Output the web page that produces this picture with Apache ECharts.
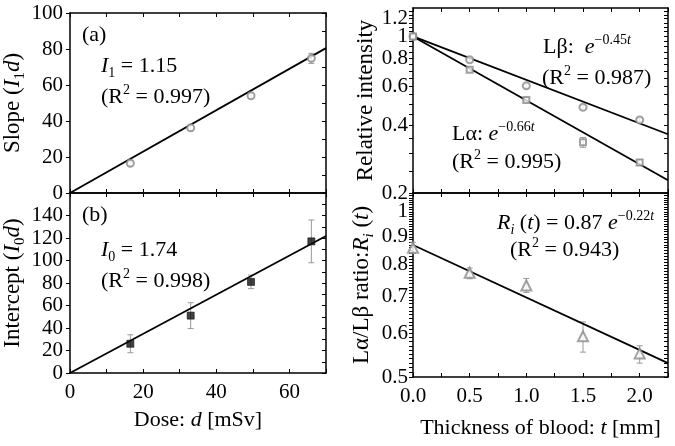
<!DOCTYPE html>
<html>
<head>
<meta charset="utf-8">
<script src="https://cdn.jsdelivr.net/npm/echarts@6/dist/echarts.min.js"></script>
<style>
  html, body { margin: 0; padding: 0; background: #fff; }
  #chart { width: 675px; height: 446px; }
</style>
</head>
<body>
<div id="chart"></div>
<script>
// (a) slope vs dose
var doses = [16.5, 33, 49.5, 66];
var slopeVals = [16.5, 36.2, 54, 74.8];
var slopeErr = [1.2, 1.5, 1.5, 2.8];
var slopeFit = [[0, 0], [70, 80.5]];
// (b) intercept vs dose
var interceptVals = [26, 51, 81, 117];
var interceptErr = [8, 11.5, 6, 19];
var interceptFit = [[0, 0], [70, 121.8]];
// relative intensity vs thickness of blood
var thick = [0, 0.5, 1.0, 1.5, 2.0];
var lbVals = [1.0, 0.787, 0.602, 0.483, 0.424];
var lbErr = [0.01, 0.012, 0.012, 0.008, 0.008];
var laVals = [1.0, 0.71, 0.521, 0.337, 0.274];
var laErr = [0.01, 0.01, 0.008, 0.017, 0.008];
var lbFit = [[0, 1.0], [2.25, 0.366]];
var laFit = [[0, 1.0], [2.25, 0.228]];
// La/Lb ratio
var ratioVals = [0.86, 0.774, 0.734, 0.593, 0.552];
var ratioLo = [0.84, 0.755, 0.713, 0.555, 0.530];
var ratioHi = [0.88, 0.79, 0.756, 0.630, 0.570];
var ratioFit = [[0, 0.87], [2.25, 0.53]];

// tick labels
var doseTicks = [0, 20, 40, 60];
var slopeTicks = [0, 20, 40, 60, 80, 100];
var interceptTicks = [0, 20, 40, 60, 80, 100, 120, 140];
var thickTicks = [0, 0.5, 1.0, 1.5, 2.0];
var intensityTicks = [0.2, 0.4, 0.6, 0.8, 1, 1.2];
var ratioTicks = [0.5, 0.6, 0.7, 0.8, 0.9, 1];

var FONT = 'Liberation Serif';
var L = Math.log10;

function steps(a, b, s) {
  var out = [];
  for (var v = a; v <= b + 1e-9; v += s) out.push(+v.toFixed(4));
  return out;
}
var doseMinor = steps(0, 70, 10);
var slopeMinor = steps(0, 100, 10);
var interceptMinor = steps(0, 160, 10);
var thickMinor = steps(0, 2.25, 0.25);
var intensityMinor = steps(0.2, 1.3, 0.05).map(L);
var ratioMinor = steps(0.5, 1.08, 0.01).map(L);

function richFor(size) {
  var s = Math.round(size * 0.64);
  return {
    i: { fontFamily: FONT, fontSize: size, fontStyle: 'italic', color: '#000' },
    sub: { fontFamily: FONT, fontSize: s, color: '#000', padding: [15, 0, 0, 0] },
    subi: { fontFamily: FONT, fontSize: s, fontStyle: 'italic', color: '#000', padding: [15, 0, 0, 0] },
    sup: { fontFamily: FONT, fontSize: s, color: '#000', padding: [0, 0, 13, 0] },
    supi: { fontFamily: FONT, fontSize: s, fontStyle: 'italic', color: '#000', padding: [0, 0, 13, 0] }
  };
}
var rich = richFor(22);
var xNameStyle = { fontFamily: FONT, fontSize: 22, color: '#000', rich: richFor(22) };
var yNameStyle = { fontFamily: FONT, fontSize: 23, color: '#000', rich: richFor(23) };

var LY = [0.2, 1.34].map(L);
var RY = [0.5, 1.082].map(L);

// log-axis labels; the blank label at the axis top keeps "1" and "1.2" both visible
function logFmt(top) {
  return function (v) {
    if (Math.abs(v - top) < 1e-9) return '';
    return String(+Math.pow(10, v).toFixed(2));
  };
}

function ax(grid, min, max, ticks, labels, o) {
  o = o || {};
  var a = {
    type: 'value', gridIndex: grid, min: min, max: max,
    position: o.position,
    splitLine: { show: false },
    axisLine: { show: true, onZero: false, lineStyle: { color: '#000', width: 1.5 } },
    axisTick: { show: true, inside: !o.out, length: 4, customValues: ticks,
      lineStyle: { color: '#000', width: 1 } },
    axisLabel: { show: !!labels, customValues: labels || [], margin: o.margin || 8,
      hideOverlap: false,
      fontFamily: FONT, fontSize: 21, color: '#000', formatter: o.fmt }
  };
  if (o.name) {
    a.name = o.name; a.nameLocation = 'middle'; a.nameGap = o.gap;
    a.nameTextStyle = o.rot ? yNameStyle : xNameStyle;
    if (o.rot) a.nameRotate = 90;
  }
  return a;
}

function errRender(params, api) {
  var x = api.value(0);
  var p1 = api.coord([x, api.value(1)]);
  var p2 = api.coord([x, api.value(2)]);
  var w = 3;
  var st = { stroke: '#999', lineWidth: 1 };
  return { type: 'group', children: [
    { type: 'line', shape: { x1: p1[0], y1: p1[1], x2: p2[0], y2: p2[1] }, style: st },
    { type: 'line', shape: { x1: p1[0] - w, y1: p1[1], x2: p1[0] + w, y2: p1[1] }, style: st },
    { type: 'line', shape: { x1: p2[0] - w, y1: p2[1], x2: p2[0] + w, y2: p2[1] }, style: st }
  ] };
}
function errSeries(g, data) {
  return { type: 'custom', xAxisIndex: 2 * g, yAxisIndex: 2 * g, data: data, z: 3,
    silent: true, encode: { x: 0, y: [1, 2] }, renderItem: errRender };
}
function fitSeries(g, data) {
  return { type: 'line', xAxisIndex: 2 * g, yAxisIndex: 2 * g, data: data, symbol: 'none',
    z: 4, silent: true, lineStyle: { color: '#000', width: 1.8 } };
}
function dotSeries(g, data, symbol, size, color) {
  return { type: 'scatter', xAxisIndex: 2 * g, yAxisIndex: 2 * g, data: data, symbol: symbol,
    symbolSize: size, z: 5, silent: true,
    itemStyle: { color: color, borderColor: color, borderWidth: 0.8 } };
}

function txt(x, y, text) {
  return { type: 'text', x: x, y: y, silent: true,
    style: { text: text, fontFamily: FONT, fontSize: 22, fill: '#000',
      verticalAlign: 'middle', align: 'left', rich: rich } };
}

var option = {
  animation: false,
  backgroundColor: '#fff',
  grid: [
    { left: 70, top: 13, width: 256, height: 180, outerBoundsMode: 'none' },
    { left: 70, top: 193, width: 256, height: 180, outerBoundsMode: 'none' },
    { left: 413, top: 8, width: 255, height: 185, outerBoundsMode: 'none' },
    { left: 413, top: 193, width: 255, height: 184, outerBoundsMode: 'none' }
  ],
  xAxis: [
    ax(0, 0, 70, doseMinor, null, { position: 'bottom' }),
    ax(0, 0, 70, doseMinor, null, { position: 'top' }),
    ax(1, 0, 70, doseMinor, doseTicks, { position: 'bottom', margin: 9,
      name: 'Dose: {i|d} [mSv]', gap: 36 }),
    ax(1, 0, 70, doseMinor, null, { position: 'top' }),
    ax(2, 0, 2.25, thickMinor, null, { position: 'bottom' }),
    ax(2, 0, 2.25, thickMinor, null, { position: 'top' }),
    ax(3, 0, 2.25, thickMinor, thickTicks, { position: 'bottom', margin: 9,
      fmt: function (v) { return v.toFixed(1); },
      name: 'Thickness of blood: {i|t} [mm]', gap: 40 }),
    ax(3, 0, 2.25, thickMinor, null, { position: 'top' })
  ],
  yAxis: [
    ax(0, 0, 100, slopeTicks, slopeTicks, { position: 'left', out: true, margin: 7,
      name: 'Slope ({i|I}{sub|1}{i|d})', gap: 42, rot: true }),
    ax(0, 0, 100, slopeMinor, null, { position: 'right' }),
    ax(1, 0, 160, interceptTicks, interceptTicks, { position: 'left', out: true, margin: 7,
      name: 'Intercept ({i|I}{sub|0}{i|d})', gap: 42, rot: true }),
    ax(1, 0, 160, interceptMinor, null, { position: 'right' }),
    ax(2, LY[0], LY[1], intensityMinor, intensityTicks.map(L).concat([LY[1]]), { position: 'left',
      out: true, margin: 5, fmt: logFmt(LY[1]), name: 'Relative intensity', gap: 36, rot: true }),
    ax(2, LY[0], LY[1], intensityMinor, null, { position: 'right' }),
    ax(3, RY[0], RY[1], ratioMinor, ratioTicks.map(L), { position: 'left', out: true,
      margin: 5, fmt: logFmt(RY[1]), name: 'L\u03b1/L\u03b2 ratio:{i|R}{subi|i} ({i|t})', gap: 36, rot: true }),
    ax(3, RY[0], RY[1], ratioMinor, null, { position: 'right' })
  ],
  series: [
    errSeries(0, doses.map(function (d, i) { return [d, slopeVals[i] - slopeErr[i], slopeVals[i] + slopeErr[i]]; })),
    fitSeries(0, slopeFit),
    dotSeries(0, doses.map(function (d, i) { return [d, slopeVals[i]]; }), 'emptyCircle', 7, '#8a8a8a'),

    errSeries(1, doses.map(function (d, i) { return [d, interceptVals[i] - interceptErr[i], interceptVals[i] + interceptErr[i]]; })),
    fitSeries(1, interceptFit),
    dotSeries(1, doses.map(function (d, i) { return [d, interceptVals[i]]; }), 'rect', 7, '#111'),

    errSeries(2, thick.map(function (t, i) { return [t, L(lbVals[i] - lbErr[i]), L(lbVals[i] + lbErr[i])]; })),
    errSeries(2, thick.map(function (t, i) { return [t, L(laVals[i] - laErr[i]), L(laVals[i] + laErr[i])]; })),
    fitSeries(2, lbFit.map(function (p) { return [p[0], L(p[1])]; })),
    fitSeries(2, laFit.map(function (p) { return [p[0], L(p[1])]; })),
    dotSeries(2, thick.map(function (t, i) { return [t, L(lbVals[i])]; }), 'emptyCircle', 7, '#8a8a8a'),
    dotSeries(2, thick.map(function (t, i) { return [t, L(laVals[i])]; }), 'emptyRect', 6, '#8a8a8a'),

    errSeries(3, thick.map(function (t, i) { return [t, L(ratioLo[i]), L(ratioHi[i])]; })),
    fitSeries(3, ratioFit.map(function (p) { return [p[0], L(p[1])]; })),
    dotSeries(3, thick.map(function (t, i) { return [t, L(ratioVals[i])]; }), 'emptyTriangle', 10, '#8a8a8a')
  ],
  graphic: [
    txt(82, 35, '(a)'),
    txt(101, 66, '{i|I}{sub|1} = 1.15'),
    txt(101, 97, '(R{sup|2} = 0.997)'),
    txt(82, 215, '(b)'),
    txt(101, 250, '{i|I}{sub|0} = 1.74'),
    txt(101, 281, '(R{sup|2} = 0.998)'),
    txt(543, 47, 'L\u03b2:  {i|e}{sup|\u22120.45}{supi|t}'),
    txt(542, 78, '(R{sup|2} = 0.987)'),
    txt(452, 134, 'L\u03b1: {i|e}{sup|\u22120.66}{supi|t}'),
    txt(452, 162, '(R{sup|2} = 0.995)'),
    txt(497, 223, '{i|R}{subi|i} ({i|t}) = 0.87 {i|e}{sup|\u22120.22}{supi|t}'),
    txt(510, 250, '(R{sup|2} = 0.943)')
  ]
};

var myChart = echarts.init(document.getElementById('chart'));
myChart.setOption(option);
window.addEventListener('resize', function () { myChart.resize(); });
</script>
</body>
</html>
